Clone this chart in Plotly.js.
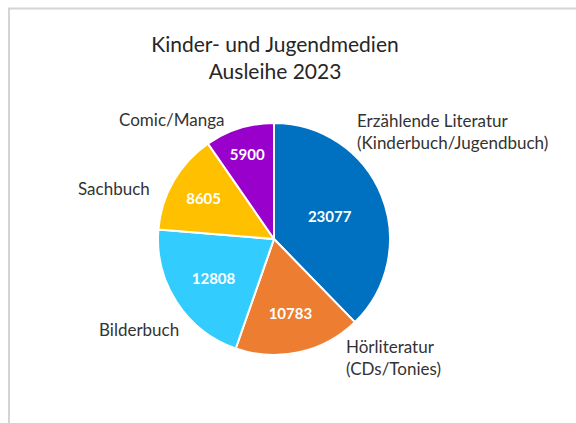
<!DOCTYPE html>
<html>
<head>
<meta charset="utf-8">
<script src="https://cdn.plot.ly/plotly-3.0.1.min.js"></script>
<style>html,body{margin:0;padding:0;background:#fff;}#chart{width:576px;height:423px;}</style>
</head>
<body>
<div id="chart"></div>
<script>
const categories = ["Erzählende Literatur<br>(Kinderbuch/Jugendbuch)", "Hörliteratur<br>(CDs/Tonies)", "Bilderbuch", "Sachbuch", "Comic/Manga"];
const values = [23077, 10783, 12808, 8605, 5900];
const colors = ["#0070C0", "#ED7D31", "#33CCFF", "#FFC000", "#9900CC"];

const W = 576, H = 423;
const cx = 274, cy = 239, r = 116;
const px = x => x / W;
const py = y => 1 - y / H;

// label anchor placements (pixels): x, y, xanchor
const labelPos = [
  [355, 131, "left"],
  [344, 357, "left"],
  [181, 329, "right"],
  [152, 188, "right"],
  [226, 119, "right"]
];

const font = "Lato, 'Open Sans', sans-serif";

const trace = {
  type: "pie",
  labels: categories,
  values: values,
  sort: false,
  direction: "clockwise",
  rotation: 0,
  marker: { colors: colors, line: { color: "#ffffff", width: 2 } },
  texttemplate: "<b>%{value:d}</b>",
  textposition: "inside",
  insidetextorientation: "horizontal",
  textfont: { color: "#ffffff", size: 15, family: font },
  hoverinfo: "label+value",
  domain: { x: [px(cx - r), px(cx + r)], y: [py(cy + r), py(cy - r)] }
};

const annotations = categories.map((c, i) => ({
  text: c,
  xref: "paper", yref: "paper",
  x: px(labelPos[i][0]), y: py(labelPos[i][1]),
  xanchor: labelPos[i][2], yanchor: "middle",
  align: "left",
  showarrow: false,
  font: { family: font, size: 17, color: "#333333" }
}));

const layout = {
  width: W, height: H,
  margin: { l: 0, r: 0, t: 0, b: 0 },
  paper_bgcolor: "#ffffff",
  showlegend: false,
  title: {
    text: "Kinder- und Jugendmedien<br>Ausleihe 2023",
    x: px(275), xanchor: "center",
    y: py(52), yanchor: "middle",
    yref: "container", xref: "container",
    font: { family: font, size: 21, color: "#262626" }
  },
  annotations: annotations,
  shapes: [{
    type: "rect", xref: "paper", yref: "paper",
    x0: px(9), x1: 1.05, y0: -0.05, y1: py(8.5),
    line: { color: "#D4D4D4", width: 2 }, fillcolor: "rgba(0,0,0,0)"
  }]
};

Plotly.newPlot("chart", [trace], layout, { staticPlot: true, displayModeBar: false });
</script>
</body>
</html>
